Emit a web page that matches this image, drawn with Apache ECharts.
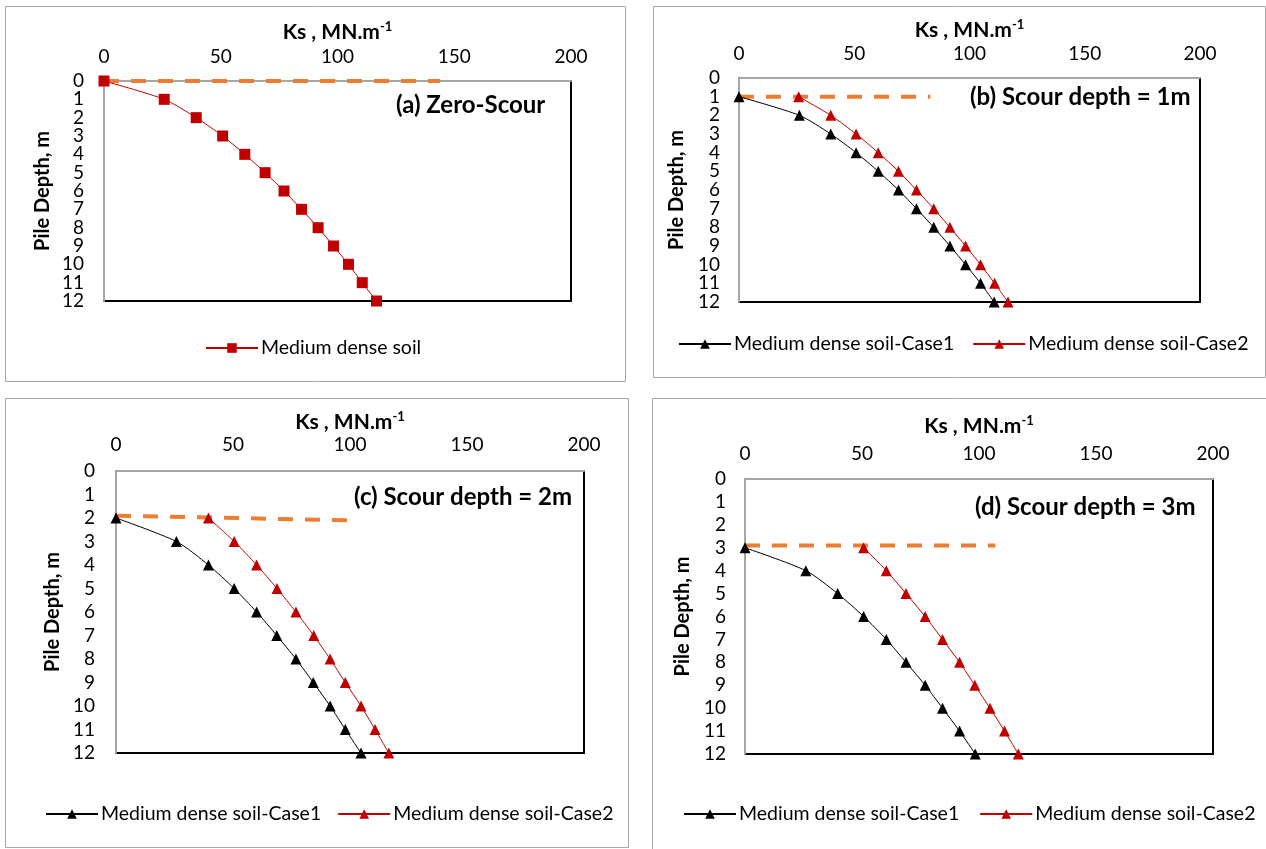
<!DOCTYPE html>
<html>
<head>
<meta charset="utf-8">
<script src="https://cdn.jsdelivr.net/npm/echarts@6/dist/echarts.min.js"></script>
<style>
  html, body { margin: 0; padding: 0; background: #fff; }
  #main { width: 1266px; height: 849px; }
</style>
</head>
<body>
<div id="main"></div>
<script>
// x axis ticks (Ks) and y axis ticks (depth)
const ksTicks = [0, 50, 100, 150, 200];
const depthTicks = ['0', '1', '2', '3', '4', '5', '6', '7', '8', '9', '10', '11', '12'];

// (a) zero scour
const depthA = [0, 1, 2, 3, 4, 5, 6, 7, 8, 9, 10, 11, 12];
const ksA = [0, 25.8, 39.5, 50.8, 60.3, 69.0, 77.1, 84.6, 91.7, 98.3, 104.7, 110.6, 116.7];
const scourKsA = [0, 144];
const scourDepthA = [0, 0];

// (b) scour depth = 1m
const depthB = [1, 2, 3, 4, 5, 6, 7, 8, 9, 10, 11, 12];
const ksB1 = [0, 26.2, 39.8, 50.8, 60.4, 69.2, 77.0, 84.5, 91.5, 98.3, 104.8, 110.7];
const ksB2 = [25.9, 39.8, 50.8, 60.4, 69.2, 77.0, 84.5, 91.5, 98.3, 104.8, 110.9, 116.7];
const scourKsB = [0, 83];
const scourDepthB = [1, 1];

// (c) scour depth = 2m
const depthC = [2, 3, 4, 5, 6, 7, 8, 9, 10, 11, 12];
const ksC1 = [0, 25.8, 39.5, 50.5, 60.1, 68.7, 76.9, 84.3, 91.5, 98.0, 104.7];
const ksC2 = [39.5, 50.5, 60.1, 68.8, 76.9, 84.5, 91.5, 98.0, 104.7, 110.7, 116.6];
const scourKsC = [0, 100.6];
const scourDepthC = [1.9, 2.1];

// (d) scour depth = 3m
const depthD = [3, 4, 5, 6, 7, 8, 9, 10, 11, 12];
const ksD1 = [0, 26.0, 39.6, 50.7, 60.4, 68.8, 77.0, 84.4, 91.7, 98.4];
const ksD2 = [50.7, 60.4, 68.8, 77.0, 84.4, 91.7, 98.2, 104.7, 110.9, 116.8];
const scourKsD = [0, 107];
const scourDepthD = [2.9, 2.9];

const FONT = 'Lato, "Open Sans", sans-serif';
const RED = '#c00000';
const ORANGE = '#ed7d31';
const CASE1 = 'Medium dense soil-Case1';
const CASE2 = 'Medium dense soil-Case2';

function pairs(xs, ys) {
  return xs.map(function (x, i) { return [x, ys[i]]; });
}

const grids = [
  { left: 104, top: 81, width: 467, height: 220 },
  { left: 739, top: 78, width: 461, height: 224 },
  { left: 116, top: 471, width: 468, height: 282 },
  { left: 745, top: 479, width: 468, height: 275 }
];

function makeX(i, nameGap, labelMargin) {
  return {
    type: 'value', gridIndex: i, position: 'top',
    min: ksTicks[0], max: ksTicks[ksTicks.length - 1], interval: ksTicks[1] - ksTicks[0],
    name: 'Ks , MN.m{sup|-1}', nameLocation: 'middle', nameGap: nameGap,
    nameTextStyle: {
      fontFamily: FONT, fontWeight: 'bold', fontSize: 21, color: '#000',
      rich: { sup: { fontFamily: FONT, fontWeight: 'bold', fontSize: 13, color: '#000', padding: [0, 0, 11, 0] } }
    },
    axisLine: { show: true, lineStyle: { color: '#a6a6a6', width: 2 } },
    axisTick: { show: false },
    splitLine: { show: false },
    axisLabel: { margin: labelMargin, fontFamily: FONT, fontSize: 19, color: '#000',
      showMinLabel: true, showMaxLabel: true }
  };
}

// value axis: carries the data, the line and the name
function makeY(i, nameGap) {
  return {
    type: 'value', gridIndex: i, inverse: true, position: 'left',
    min: 0, max: depthTicks.length - 1, interval: 1,
    name: 'Pile Depth, m', nameLocation: 'middle', nameGap: nameGap,
    nameTextStyle: { fontFamily: FONT, fontWeight: 'bold', fontSize: 20, color: '#000' },
    axisLine: { show: true, lineStyle: { color: '#a6a6a6', width: 2 } },
    axisTick: { show: false },
    splitLine: { show: false },
    axisLabel: { show: false }
  };
}

// category twin axis: only draws every depth label
function makeYLabels(i, labelMargin) {
  return {
    type: 'category', gridIndex: i, inverse: true, position: 'left',
    data: depthTicks, boundaryGap: false,
    axisLine: { show: false }, axisTick: { show: false }, splitLine: { show: false },
    axisLabel: { interval: 0, margin: labelMargin, fontFamily: FONT, fontSize: 19, color: '#000' }
  };
}

function scourSeries(i, xs, ys) {
  return {
    type: 'line', xAxisIndex: i, yAxisIndex: i, data: pairs(xs, ys),
    symbol: 'none', silent: true, z: 1,
    lineStyle: { color: ORANGE, width: 4, type: [15, 12] }
  };
}

function soilSeries(i, name, xs, ys, color, symbol, size) {
  return {
    type: 'line', name: name, xAxisIndex: i, yAxisIndex: i, data: pairs(xs, ys),
    smooth: 0.25, symbol: symbol, symbolSize: size, z: 3,
    lineStyle: { color: color, width: 1 },
    itemStyle: { color: color }
  };
}

function legendFor(names, left, top, gap) {
  return {
    data: names, left: left, top: top, itemGap: gap, width: 640,
    itemWidth: 52, itemHeight: 12,
    textStyle: { fontFamily: FONT, fontSize: 19.5, color: '#000', padding: [0, 0, 0, -2] }
  };
}

function frame(x, y, w, h) {
  return { type: 'rect', shape: { x: x, y: y, width: w, height: h }, silent: true,
    style: { fill: 'none', stroke: '#a6a6a6', lineWidth: 1 } };
}

function label(text, x, y) {
  return { type: 'text', x: x, y: y, silent: true, z: 10,
    style: { text: text, fill: '#000', font: 'bold 24px ' + FONT, textVerticalAlign: 'middle' } };
}

const chart = echarts.init(document.getElementById('main'), null, { renderer: 'canvas' });

const option = {
  backgroundColor: '#ffffff',
  animation: false,
  grid: grids.map(function (g) {
    return Object.assign({ show: true, borderColor: '#000', borderWidth: 2, backgroundColor: 'transparent' }, g);
  }),
  xAxis: [makeX(0, 37, 15), makeX(1, 36, 15), makeX(2, 37, 17), makeX(3, 41, 16)],
  yAxis: [
    makeY(0, 51), makeY(1, 52), makeY(2, 53), makeY(3, 52),
    makeYLabels(0, 20), makeYLabels(1, 19), makeYLabels(2, 21), makeYLabels(3, 19)
  ],
  legend: [
    legendFor(['Medium dense soil'], 200, 333, 10),
    legendFor([CASE1, CASE2], 673, 329, 18),
    legendFor([CASE1, CASE2], 40, 799, 16),
    legendFor([CASE1, CASE2], 678, 799, 20)
  ],
  graphic: [
    frame(5.5, 6.5, 620, 375),
    frame(653.5, 6.5, 612, 371),
    frame(5.5, 398.5, 623, 449),
    frame(652.5, 398.5, 620, 460),
    label('(a) Zero-Scour', 396, 105),
    label('(b) Scour depth = 1m', 970, 97),
    label('(c) Scour depth = 2m', 354, 497),
    label('(d) Scour depth = 3m', 975, 507)
  ],
  series: [
    scourSeries(0, scourKsA, scourDepthA),
    soilSeries(0, 'Medium dense soil', ksA, depthA, RED, 'rect', 11),
    scourSeries(1, scourKsB, scourDepthB),
    soilSeries(1, CASE1, ksB1, depthB, '#000', 'triangle', 11),
    soilSeries(1, CASE2, ksB2, depthB, RED, 'triangle', 11),
    scourSeries(2, scourKsC, scourDepthC),
    soilSeries(2, CASE1, ksC1, depthC, '#000', 'triangle', 11),
    soilSeries(2, CASE2, ksC2, depthC, RED, 'triangle', 11),
    scourSeries(3, scourKsD, scourDepthD),
    soilSeries(3, CASE1, ksD1, depthD, '#000', 'triangle', 11),
    soilSeries(3, CASE2, ksD2, depthD, RED, 'triangle', 11)
  ]
};

chart.setOption(option);
</script>
</body>
</html>
